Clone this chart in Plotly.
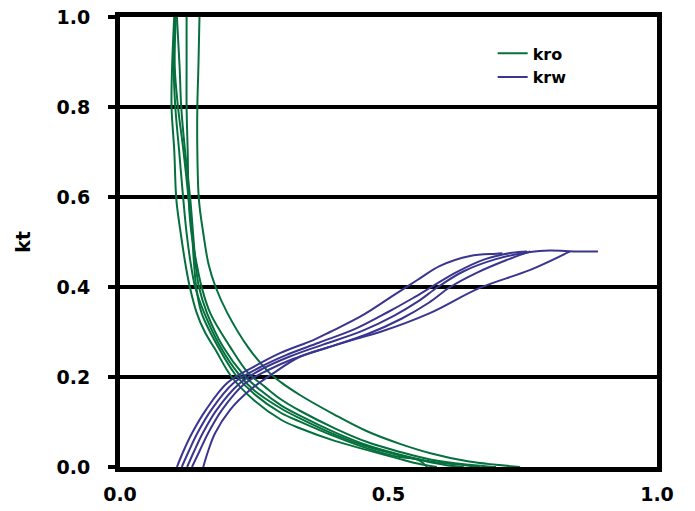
import plotly.graph_objects as go

# ---- data: kro curves (green) ----
kro_x = [
    [0.101, 0.097, 0.096, 0.101, 0.105, 0.113, 0.122, 0.130, 0.143, 0.158, 0.177, 0.208, 0.250, 0.300, 0.335, 0.400, 0.459, 0.520, 0.560, 0.590],
    [0.104, 0.102, 0.108, 0.118, 0.128, 0.134, 0.138, 0.142, 0.152, 0.185, 0.215, 0.250, 0.300, 0.335, 0.400, 0.459, 0.520, 0.555, 0.572],
    [0.102, 0.100, 0.103, 0.110, 0.118, 0.124, 0.132, 0.140, 0.157, 0.188, 0.222, 0.250, 0.300, 0.335, 0.400, 0.459, 0.520, 0.580, 0.620, 0.640],
    [0.106, 0.111, 0.114, 0.121, 0.131, 0.136, 0.141, 0.147, 0.162, 0.192, 0.230, 0.260, 0.300, 0.335, 0.400, 0.459, 0.520, 0.580, 0.650, 0.670],
    [0.124, 0.124, 0.124, 0.126, 0.128, 0.133, 0.143, 0.152, 0.168, 0.205, 0.238, 0.270, 0.300, 0.335, 0.400, 0.459, 0.520, 0.580, 0.650, 0.700],
    [0.148, 0.146, 0.144, 0.144, 0.147, 0.155, 0.165, 0.178, 0.200, 0.238, 0.276, 0.300, 0.335, 0.400, 0.459, 0.520, 0.580, 0.650, 0.700, 0.745],
]
kro_y = [
    [1.0, 0.889, 0.80, 0.704, 0.593, 0.52, 0.45, 0.40, 0.342, 0.30, 0.262, 0.200, 0.148, 0.105, 0.086, 0.058, 0.038, 0.018, 0.006, 0.0],
    [1.0, 0.889, 0.80, 0.704, 0.593, 0.52, 0.45, 0.40, 0.342, 0.262, 0.205, 0.162, 0.120, 0.101, 0.068, 0.042, 0.022, 0.016, 0.0],
    [1.0, 0.889, 0.80, 0.704, 0.593, 0.52, 0.45, 0.40, 0.342, 0.265, 0.205, 0.170, 0.130, 0.108, 0.072, 0.046, 0.026, 0.010, 0.002, 0.0],
    [1.0, 0.889, 0.80, 0.704, 0.593, 0.52, 0.45, 0.40, 0.342, 0.267, 0.205, 0.172, 0.137, 0.114, 0.077, 0.049, 0.028, 0.012, 0.003, 0.0],
    [1.0, 0.889, 0.80, 0.704, 0.593, 0.52, 0.45, 0.40, 0.342, 0.267, 0.210, 0.178, 0.150, 0.125, 0.086, 0.056, 0.034, 0.016, 0.005, 0.0],
    [1.0, 0.889, 0.80, 0.704, 0.593, 0.52, 0.45, 0.40, 0.342, 0.267, 0.212, 0.188, 0.160, 0.116, 0.080, 0.052, 0.030, 0.012, 0.005, 0.0],
]

# ---- data: krw curves (purple) ----
krw_x = [
    [0.106, 0.118, 0.134, 0.160, 0.200, 0.248, 0.298, 0.360, 0.391, 0.453, 0.515, 0.553, 0.596, 0.652, 0.700, 0.712],
    [0.115, 0.128, 0.144, 0.170, 0.212, 0.258, 0.308, 0.370, 0.440, 0.500, 0.545, 0.580, 0.625, 0.680, 0.730, 0.758],
    [0.125, 0.138, 0.154, 0.180, 0.222, 0.265, 0.315, 0.378, 0.450, 0.510, 0.555, 0.592, 0.640, 0.700, 0.764, 0.800, 0.850, 0.890],
    [0.134, 0.148, 0.164, 0.190, 0.232, 0.275, 0.322, 0.385, 0.460, 0.525, 0.575, 0.615, 0.665, 0.720, 0.764],
    [0.155, 0.164, 0.177, 0.205, 0.242, 0.285, 0.335, 0.391, 0.440, 0.484, 0.577, 0.670, 0.764, 0.838],
]
krw_y = [
    [0.0, 0.035, 0.075, 0.127, 0.187, 0.222, 0.253, 0.282, 0.300, 0.338, 0.386, 0.415, 0.447, 0.469, 0.474, 0.475],
    [0.0, 0.035, 0.075, 0.127, 0.187, 0.220, 0.248, 0.276, 0.308, 0.345, 0.375, 0.400, 0.432, 0.462, 0.476, 0.479],
    [0.0, 0.035, 0.075, 0.127, 0.185, 0.218, 0.245, 0.272, 0.302, 0.336, 0.368, 0.400, 0.435, 0.462, 0.478, 0.481, 0.479, 0.479],
    [0.0, 0.035, 0.075, 0.127, 0.185, 0.215, 0.240, 0.265, 0.295, 0.330, 0.365, 0.400, 0.432, 0.460, 0.479],
    [0.0, 0.035, 0.075, 0.127, 0.171, 0.208, 0.245, 0.267, 0.285, 0.300, 0.342, 0.398, 0.438, 0.479],
]

x_ticks = [0.0, 0.5, 1.0]
x_tick_text = ["0.0", "0.5", "1.0"]
y_ticks = [0.0, 0.2, 0.4, 0.6, 0.8, 1.0]
y_tick_text = ["0.0", "0.2", "0.4", "0.6", "0.8", "1.0"]

GREEN = "#05703D"
PURPLE = "#3A358E"
FONT = "DejaVu Sans"

fig = go.Figure()
for i, (xs, ys) in enumerate(zip(kro_x, kro_y)):
    fig.add_trace(go.Scatter(x=xs, y=ys, mode="lines", name="kro", legendgroup="kro",
                             showlegend=(i == 0),
                             line=dict(color=GREEN, width=2, shape="spline", smoothing=1.0),
                             hoverinfo="skip"))
for i, (xs, ys) in enumerate(zip(krw_x, krw_y)):
    fig.add_trace(go.Scatter(x=xs, y=ys, mode="lines", name="krw", legendgroup="krw",
                             showlegend=(i == 0),
                             line=dict(color=PURPLE, width=2, shape="spline", smoothing=1.0),
                             hoverinfo="skip"))

fig.update_layout(
    width=695, height=511,
    margin=dict(l=120, r=38, t=17, b=44),
    paper_bgcolor="white", plot_bgcolor="white",
    font=dict(family=FONT, size=18, color="black", weight="bold"),
    legend=dict(x=0.694, y=0.957, xanchor="left", yanchor="top",
                bgcolor="rgba(0,0,0,0)", font=dict(size=16, family=FONT, weight="bold"),
                tracegroupgap=0),
    xaxis=dict(range=[0, 1], tickvals=x_ticks, ticktext=x_tick_text, automargin=False,
               showgrid=False, zeroline=False, showline=True, linewidth=5,
               linecolor="black", mirror=True, ticks="", ticklabelstandoff=6,
               tickfont=dict(size=19, family=FONT, weight="bold")),
    yaxis=dict(range=[0, 1], tickvals=y_ticks, ticktext=y_tick_text, automargin=False,
               showgrid=True, gridcolor="black", gridwidth=4, zeroline=False,
               showline=True, linewidth=5, linecolor="black", mirror=True,
               ticks="outside", ticklen=7, tickwidth=4, tickcolor="black",
               ticklabelstandoff=14,
               tickfont=dict(size=19, family=FONT, weight="bold"),
               title=dict(text="kt", standoff=22, font=dict(size=19, family=FONT, weight="bold"))),
)

fig.write_html("out.html", config={"displayModeBar": False})
